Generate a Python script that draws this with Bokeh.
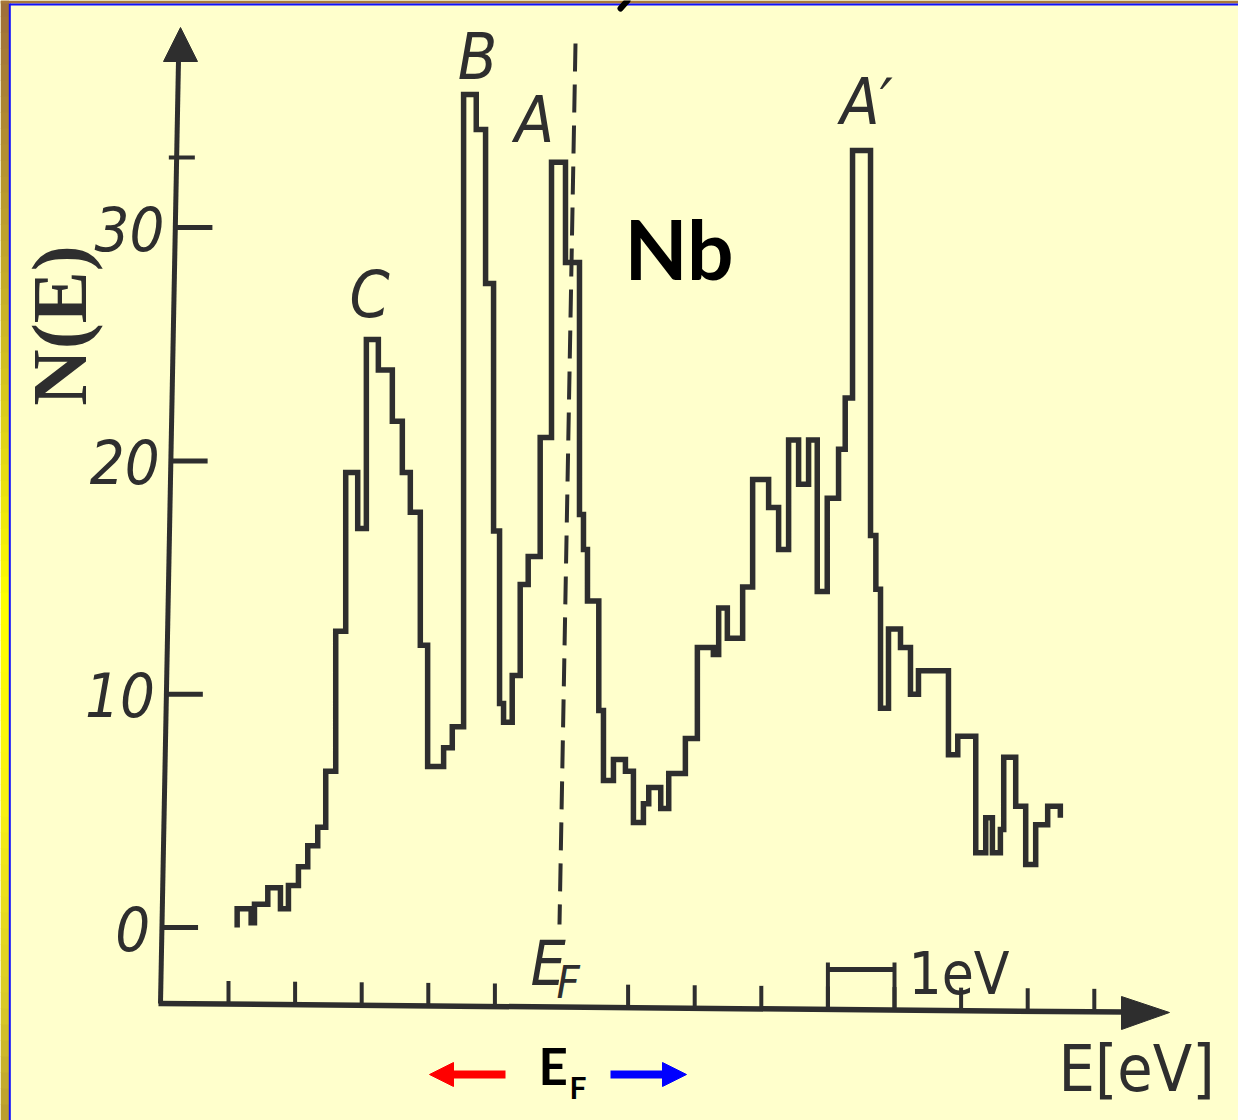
import math
from bokeh.plotting import figure
from bokeh.models import Range1d, Arrow, NormalHead
from bokeh.core.properties import value
from bokeh.embed import file_html
from bokeh.resources import INLINE

# ---------------- data ----------------
# histogram bin edges, energy relative to E_F in eV
edges = [-4.87, -4.66, -4.61, -4.41, -4.22, -4.10, -3.95, -3.81, -3.66, -3.54,
         -3.39, -3.24, -3.06, -2.93, -2.75, -2.54, -2.39, -2.27, -2.12, -2.01,
         -1.77, -1.64, -1.47, -1.28, -1.14, -1.02, -0.93, -0.87, -0.74, -0.62,
         -0.50, -0.32, -0.15, 0.06, 0.27, 0.33, 0.39, 0.56, 0.63, 0.78,
         0.96, 1.08, 1.23, 1.31, 1.49, 1.61, 1.86, 2.04, 2.28, 2.36,
         2.49, 2.72, 2.87, 3.11, 3.26, 3.41, 3.56, 3.71, 3.84, 3.99,
         4.16, 4.26, 4.37, 4.64, 4.72, 4.79, 4.91, 5.09, 5.24, 5.36,
         5.81, 5.95, 6.22, 6.37, 6.47, 6.59, 6.64, 6.82, 6.97, 7.12,
         7.30, 7.49]
# N(E) in each bin
counts = [0.8, 0.2, 1.0, 1.7, 0.8, 1.8, 2.6, 3.5, 4.3, 6.7,
          12.7, 19.5, 17.1, 25.2, 23.9, 21.7, 19.5, 17.8, 12.1, 6.9,
          7.7, 8.6, 35.7, 34.2, 27.6, 17.0, 9.6, 8.8, 10.8, 14.7,
          15.9, 21.0, 32.8, 28.5, 17.7, 16.2, 14.0, 9.3, 6.3, 7.2,
          6.7, 4.5, 5.3, 6.0, 5.1, 6.6, 8.1, 12.0, 11.7, 13.7,
          12.4, 14.6, 19.2, 18.0, 16.2, 20.9, 19.0, 20.9, 14.4, 18.4,
          20.5, 22.7, 33.3, 16.8, 14.5, 9.4, 12.8, 12.0, 10.0, 11.0,
          7.4, 8.2, 3.2, 4.7, 3.2, 4.2, 7.3, 5.2, 2.7, 4.4,
          5.2]
end_value = 4.7
x_ticks = [-5, -4, -3, -2, -1, 1, 2, 3, 4, 5, 6, 7, 8]
y_ticks = [0, 10, 20, 30]
y_tick_labels = ["0", "10", "20", "30"]
peak_names = ["C", "B", "A", "A\u2032"]
e_fermi = 0.0
scale_bar = [4.0, 5.0]

# ---------------- layout helpers (pixel <-> data) ----------------
W, H = 1238, 1120
X0PX, XS = 561.0, 66.6
Y0PX, YS = 927.0, 23.33
def ex(px): return (px - X0PX) / XS
def ny(py): return (Y0PX - py) / YS
def epx(e): return X0PX + XS * e
def npy(n): return Y0PX - YS * n
def base(py, size): return ny(py - 0.4 * size)   # baseline correction for text placement

INK = "#2e2e2e"
NARROW = "DejaVu Sans Condensed, Roboto"

p = figure(width=W, height=H, x_range=Range1d(ex(0), ex(W)), y_range=Range1d(ny(H), ny(0)),
           output_backend="svg", toolbar_location=None, min_border=0,
           x_axis_location=None, y_axis_location=None,
           background_fill_color="#FFFFCC", border_fill_color="#FFFFCC", outline_line_color=None)
p.xgrid.visible = False
p.ygrid.visible = False

# ---------------- frame decoration ----------------
stops = [(0.0, (158, 110, 58)), (0.27, (200, 176, 40)), (0.54, (255, 255, 0)),
         (0.72, (248, 240, 20)), (0.9, (216, 200, 40)), (1.0, (184, 154, 48))]
def grad(t):
    for (t0, c0), (t1, c1) in zip(stops[:-1], stops[1:]):
        if t0 <= t <= t1:
            f = (t - t0) / (t1 - t0)
            return "#%02x%02x%02x" % tuple(int(round(a + (b - a) * f)) for a, b in zip(c0, c1))
    return "#%02x%02x%02x" % stops[-1][1]
nseg = 70
qt, qb, qc = [], [], []
for i in range(nseg):
    qt.append(ny(i * H / nseg))
    qb.append(ny((i + 1) * H / nseg + 0.5))
    qc.append(grad((i + 0.5) / nseg))
p.quad(left=ex(0), right=ex(8.5), top=qt, bottom=qb, fill_color=qc, line_color=None)
p.quad(left=ex(0), right=ex(W), top=ny(0), bottom=ny(3), fill_color="#A8783A", line_color=None)
p.line([ex(9.3), ex(9.3)], [ny(3), ny(H)], line_color="#1010FF", line_width=2)
p.line([ex(9.3), ex(W)], [ny(4), ny(4)], line_color="#1010FF", line_width=2)
# fragment of a glyph cut off at the top edge
p.line([ex(627), ex(620)], [ny(0), ny(8)], line_color="#000000", line_width=6, line_cap="round")

# ---------------- histogram ----------------
xs = [edges[0]] + edges + [edges[-1]]
ys = [0.0] + counts + [counts[-1], end_value]
p.step(x=xs, y=ys, mode="after", line_color=INK, line_width=5.5, line_join="miter")

# E_F dashed line (slightly tilted as in the scan)
p.line([e_fermi + ex(575) - ex(561), e_fermi + ex(559) - ex(561)], [ny(43), ny(924)],
       line_color=INK, line_width=4, line_dash="28 13")

# ---------------- axes ----------------
def axis_x_px(py): return 160 + 20 * (1003 - py) / 976
def axis_y_px(px): return 1003 + 9 * (px - 160) / 1009

# y axis
p.line([ex(160), ex(178)], [ny(1003), ny(60)], line_color=INK, line_width=5)
p.patch([ex(180), ex(163), ex(197)], [ny(27), ny(61), ny(61)], fill_color=INK, line_color=INK)
# x axis
p.line([ex(158), ex(1125)], [ny(1003), ny(axis_y_px(1125))], line_color=INK, line_width=5.5)
p.patch([ex(1169), ex(1121), ex(1121)], [ny(1012), ny(996), ny(1029)], fill_color=INK, line_color=INK)

# x ticks
tx = [epx(e) for e in x_ticks]
p.segment(x0=x_ticks, y0=[ny(axis_y_px(t)) for t in tx], x1=x_ticks, y1=[ny(axis_y_px(t) - 23) for t in tx],
          line_color=INK, line_width=4)
# y ticks
ty = [npy(n) for n in y_ticks]
p.segment(x0=[ex(axis_x_px(t)) for t in ty], y0=y_ticks, x1=[ex(axis_x_px(t) + 36) for t in ty], y1=y_ticks,
          line_color=INK, line_width=5)
p.segment(x0=[ex(axis_x_px(157) - 9)], y0=[ny(157)], x1=[ex(axis_x_px(157) + 17)], y1=[ny(157)],
          line_color=INK, line_width=4)
# y tick labels
p.text(x=[ex(axis_x_px(t)) for t in ty], y=[base(t + 25, 61) for t in ty], text=y_tick_labels,
       x_offset=-12, text_align="right", text_baseline="alphabetic",
       text_font=value(NARROW), text_font_style="italic", text_font_size="61px", text_color=INK)

# y axis label
p.text(x=[ex(59)], y=[ny(325)], text=["N(E)"], angle=math.pi / 2, text_align="center",
       text_baseline="middle", text_font=value("Liberation Serif"), text_font_style="bold",
       text_font_size="78px", text_color=INK)

# peak labels
p.text(x=[ex(369), ex(477), ex(534), ex(866)], y=[base(320, 64), base(82, 64), base(145, 64), base(127, 64)],
       text=peak_names, text_align="center", text_baseline="alphabetic", text_font=value(NARROW),
       text_font_style="italic", text_font_size="64px", text_color=INK)

# E_F label on the axis
p.text(x=[ex(530)], y=[base(988, 62)], text=["E"], text_align="left", text_baseline="alphabetic",
       text_font=value(NARROW), text_font_style="italic", text_font_size="62px", text_color=INK)
p.text(x=[ex(556)], y=[base(1000, 45)], text=["F"], text_align="left", text_baseline="alphabetic",
       text_font=value(NARROW), text_font_style="italic", text_font_size="45px", text_color=INK)

# 1 eV scale bar
p.segment(x0=[scale_bar[0]], y0=[ny(969)], x1=[scale_bar[1]], y1=[ny(969)], line_color=INK, line_width=5)
p.segment(x0=scale_bar, y0=[ny(962), ny(962)], x1=scale_bar, y1=[ny(axis_y_px(epx(s))) for s in scale_bar],
          line_color=INK, line_width=4)
p.text(x=[ex(908)], y=[base(997, 58)], text=["1eV"], text_align="left", text_baseline="alphabetic",
       text_font=value(NARROW), text_font_size="58px", text_color=INK)

# axis label
p.text(x=[ex(1058)], y=[base(1094, 64)], text=["E[eV]"], text_align="left", text_baseline="alphabetic",
       text_font=value(NARROW), text_font_size="64px", text_color=INK)

# Nb
p.text(x=[ex(624)], y=[base(280, 82)], text=["Nb"], text_align="left", text_baseline="alphabetic",
       text_font=value("Lato"), text_font_style="bold", text_font_size="82px", text_color="#000000")

# bottom E_F with arrows
p.text(x=[ex(538)], y=[base(1085, 51)], text=["E"], text_align="left", text_baseline="alphabetic",
       text_font=value("Lato"), text_font_style="bold", text_font_size="51px", text_color="#000000")
p.text(x=[ex(569)], y=[base(1098, 30)], text=["F"], text_align="left", text_baseline="alphabetic",
       text_font=value("Lato"), text_font_style="bold", text_font_size="30px", text_color="#000000")
p.add_layout(Arrow(x_start=ex(505), y_start=ny(1074), x_end=ex(429), y_end=ny(1074),
                   line_color="#FF0000", line_width=8,
                   end=NormalHead(size=24, fill_color="#FF0000", line_color="#FF0000")))
p.add_layout(Arrow(x_start=ex(610), y_start=ny(1074), x_end=ex(686), y_end=ny(1074),
                   line_color="#0000FF", line_width=8,
                   end=NormalHead(size=24, fill_color="#0000FF", line_color="#0000FF")))

open("out.html", "w").write(file_html(p, INLINE))
